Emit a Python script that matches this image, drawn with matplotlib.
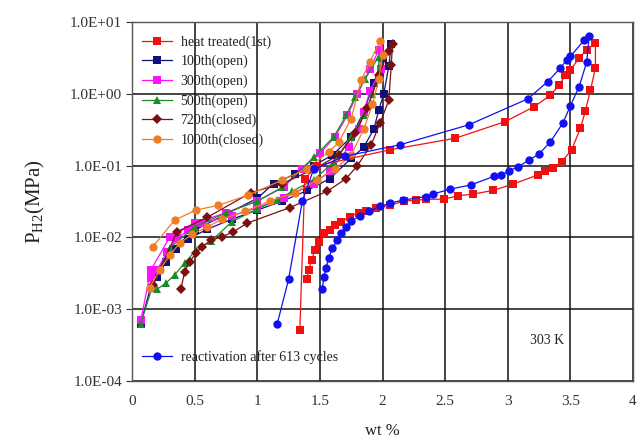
import matplotlib
matplotlib.use("Agg")
import matplotlib.pyplot as plt
from matplotlib.ticker import FixedLocator, FuncFormatter

plt.rcParams['font.family'] = ['Liberation Serif', 'DejaVu Serif']
plt.rcParams['mathtext.fontset'] = 'custom'
plt.rcParams['mathtext.rm'] = 'Liberation Serif'
plt.rcParams['mathtext.it'] = 'Liberation Serif:italic'

# ---- data (wt %, MPa) ----
heat_x = [1.34, 1.38, 1.48, 2.06, 2.58, 2.98, 3.21, 3.34, 3.41, 3.46, 3.50, 3.57, 3.63, 3.70,
          3.70, 3.66, 3.62, 3.58, 3.51, 3.43, 3.36, 3.30, 3.24, 3.04, 2.88, 2.72, 2.60, 2.49,
          2.35, 2.27, 2.17, 2.06, 1.95, 1.87, 1.81, 1.74, 1.67, 1.62, 1.58, 1.53, 1.49, 1.46,
          1.435, 1.41, 1.395]
heat_p = [5.1e-4, 0.066, 0.10, 0.166, 0.24, 0.41, 0.66, 0.95, 1.32, 1.82, 2.14, 3.16, 4.07, 5.13,
          2.29, 1.12, 0.575, 0.331, 0.166, 0.112, 0.093, 0.083, 0.074, 0.055, 0.045, 0.040, 0.038, 0.034,
          0.034, 0.033, 0.032, 0.028, 0.026, 0.023, 0.022, 0.0195, 0.0166, 0.0148, 0.0126, 0.0115, 0.0087, 0.0066,
          0.0049, 0.0035, 0.0026]

c100_x = [0.07, 0.17, 0.30, 0.50, 0.75, 1.00, 1.13, 1.30, 1.45, 1.60, 1.75, 1.85, 1.93, 2.00, 2.07,
          2.05, 2.01, 1.97, 1.93, 1.85, 1.75, 1.58, 1.40, 1.20, 1.00, 0.80, 0.60, 0.45, 0.35, 0.27, 0.20]
c100_p = [6.3e-4, 0.0028, 0.0063, 0.0126, 0.021, 0.035, 0.056, 0.076, 0.10, 0.14, 0.25, 0.56, 1.4, 3.2, 5.0,
          2.4, 1.0, 0.59, 0.32, 0.18, 0.126, 0.066, 0.045, 0.032, 0.024, 0.018, 0.013, 0.0095, 0.0068, 0.0045, 0.0028]

c300_x = [0.07, 0.15, 0.30, 0.50, 0.75, 1.00, 1.21, 1.36, 1.50, 1.62, 1.72, 1.80, 1.90, 1.97,
          1.99, 1.90, 1.85, 1.81, 1.73, 1.58, 1.45, 1.21, 1.00, 0.80, 0.56, 0.45, 0.36, 0.28, 0.20, 0.15]
c300_p = [7.0e-4, 0.0035, 0.010, 0.0158, 0.022, 0.032, 0.050, 0.091, 0.148, 0.25, 0.50, 1.0, 2.2, 4.1,
          2.2, 1.1, 0.56, 0.32, 0.18, 0.083, 0.056, 0.035, 0.026, 0.020, 0.0158, 0.0126, 0.0098, 0.0063, 0.0035, 0.0027]

c500_x = [0.07, 0.16, 0.30, 0.50, 0.75, 1.00, 1.20, 1.45, 1.61, 1.71, 1.78, 1.86, 1.97,
          1.97, 1.92, 1.85, 1.75, 1.61, 1.45, 1.28, 1.16, 1.00, 0.80, 0.63, 0.51, 0.42, 0.34, 0.27, 0.20]
c500_p = [6.3e-4, 0.0020, 0.0071, 0.014, 0.022, 0.032, 0.050, 0.13, 0.25, 0.50, 0.89, 1.6, 3.3,
          2.0, 1.0, 0.50, 0.25, 0.112, 0.063, 0.044, 0.033, 0.025, 0.0166, 0.0089, 0.0066, 0.0044, 0.0030, 0.0023, 0.0019]

c720_x = [0.17, 0.36, 0.60, 0.95, 1.20, 1.45, 1.65, 1.78, 1.88, 1.97, 2.05, 2.08,
          2.07, 2.05, 1.98, 1.91, 1.80, 1.71, 1.56, 1.26, 0.92, 0.81, 0.72, 0.63, 0.56, 0.51, 0.46, 0.42, 0.39]
c720_p = [0.0022, 0.012, 0.019, 0.042, 0.056, 0.089, 0.14, 0.28, 0.63, 1.8, 4.0, 5.0,
          2.5, 0.81, 0.39, 0.195, 0.10, 0.066, 0.044, 0.026, 0.0158, 0.012, 0.0102, 0.0091, 0.0074, 0.0060, 0.0046, 0.0033, 0.0019]

c1000_x = [0.165, 0.34, 0.51, 0.69, 0.93, 1.20, 1.40, 1.57, 1.65, 1.75, 1.83, 1.90, 1.98,
           2.00, 1.97, 1.92, 1.85, 1.75, 1.62, 1.48, 1.30, 1.10, 0.90, 0.72, 0.60, 0.48, 0.38, 0.30, 0.22, 0.14]
c1000_p = [0.0074, 0.0174, 0.024, 0.028, 0.039, 0.063, 0.091, 0.155, 0.21, 0.45, 1.55, 2.8, 5.4,
           3.5, 1.6, 0.71, 0.32, 0.14, 0.089, 0.063, 0.042, 0.032, 0.023, 0.018, 0.014, 0.011, 0.0083, 0.0056, 0.0035, 0.0020]

react_x = [1.16, 1.25, 1.36, 1.45, 1.70, 2.14, 2.69, 3.16, 3.32, 3.42, 3.47, 3.50, 3.61, 3.65,
           3.63, 3.57, 3.50, 3.44, 3.34, 3.25, 3.17, 3.08, 3.01, 2.95, 2.89, 2.71, 2.54, 2.40,
           2.35, 2.16, 2.06, 1.98, 1.89, 1.82, 1.75, 1.71, 1.67, 1.64, 1.60, 1.57, 1.55, 1.53, 1.52]
react_p = [6.3e-4, 0.0026, 0.032, 0.089, 0.135, 0.195, 0.37, 0.85, 1.48, 2.29, 2.95, 3.31, 5.6, 6.3,
           2.75, 1.26, 0.68, 0.39, 0.214, 0.145, 0.12, 0.095, 0.085, 0.074, 0.071, 0.054, 0.047, 0.040,
           0.037, 0.033, 0.030, 0.027, 0.023, 0.020, 0.017, 0.014, 0.0115, 0.0091, 0.0071, 0.0051, 0.0038, 0.0028, 0.0019]

labels = ['heat treated(1st)', '100th(open)', '300th(open)', '500th(open)', '720th(closed)', '1000th(closed)']
react_label = 'reactivation after 613 cycles'
y_ticks = [1e-4, 1e-3, 1e-2, 1e-1, 1e0, 1e1]
y_tick_labels = ['1.0E-04', '1.0E-03', '1.0E-02', '1.0E-01', '1.0E+00', '1.0E+01']
x_ticks = [0, 0.5, 1, 1.5, 2, 2.5, 3, 3.5, 4]
x_tick_labels = ['0', '0.5', '1', '1.5', '2', '2.5', '3', '3.5', '4']

series = [
    (heat_x, heat_p, '#f01010', 's'),
    (c100_x, c100_p, '#10107a', 's'),
    (c300_x, c300_p, '#ff10ff', 's'),
    (c500_x, c500_p, '#1a8a2a', '^'),
    (c720_x, c720_p, '#7a1010', 'D'),
    (c1000_x, c1000_p, '#f07d25', 'o'),
]

fig = plt.figure(figsize=(6.42, 4.44), dpi=100)
ax = fig.add_axes([0.2056, 0.1419, 0.7804, 0.8086])

draw_order = [1, 2, 3, 4, 5, 0]
handles = [None] * 6
for i in draw_order:
    x, p, col, m = series[i]
    ms = 6 if m != 'D' else 5
    h, = ax.plot(x, p, color=col, marker=m, markersize=ms, linewidth=0.9,
                 markeredgewidth=0, zorder=3)
    handles[i] = h
hr, = ax.plot(react_x, react_p, color='#1010f0', marker='o', markersize=6,
              linewidth=0.9, markeredgewidth=0, zorder=3)

ax.set_yscale('log')
ax.set_ylim(1e-4, 1e1)
ax.set_xlim(0, 4)
ax.yaxis.set_major_locator(FixedLocator(y_ticks))
ax.yaxis.set_major_formatter(FuncFormatter(lambda v, pos: y_tick_labels[y_ticks.index(min(y_ticks, key=lambda t: abs(t - v)))]))
ax.yaxis.set_minor_locator(FixedLocator([]))
ax.xaxis.set_major_locator(FixedLocator(x_ticks))
ax.set_xticklabels(x_tick_labels)
ax.tick_params(axis='y', direction='out', length=4, width=0.8, labelsize=11, colors='#333333', pad=3)
ax.tick_params(axis='x', length=0, labelsize=11, colors='#333333', pad=10)
for s in ax.spines.values():
    s.set_color('#555555')
    s.set_linewidth(1.0)
ax.grid(True, which='major', color='#111111', linewidth=1.1, zorder=1)
ax.set_axisbelow(True)

ax.set_ylabel(r'P$_{\mathrm{H2}}$(MPa)', fontsize=15, color='#222222', labelpad=17)
ax.set_xlabel('wt %', fontsize=12, color='#222222', labelpad=11)

leg = ax.legend(handles, labels, loc='upper left', bbox_to_anchor=(0.0, 0.99),
                frameon=False, fontsize=10, handlelength=2.2, handletextpad=0.6,
                labelspacing=0.44, borderaxespad=0.4, borderpad=0.3)
for t in leg.get_texts():
    t.set_color('#222222')
ax.add_artist(leg)
leg2 = ax.legend([hr], [react_label], loc='lower left', bbox_to_anchor=(0.0, 0.02),
                 frameon=False, fontsize=10, handlelength=2.2, handletextpad=0.6,
                 borderaxespad=0.4, borderpad=0.3)
for t in leg2.get_texts():
    t.set_color('#222222')

ax.text(3.31, 3.7e-4, '303 K', fontsize=10, ha='center', va='center', color='#222222')

fig.savefig('out.png', dpi=100, facecolor='white')
